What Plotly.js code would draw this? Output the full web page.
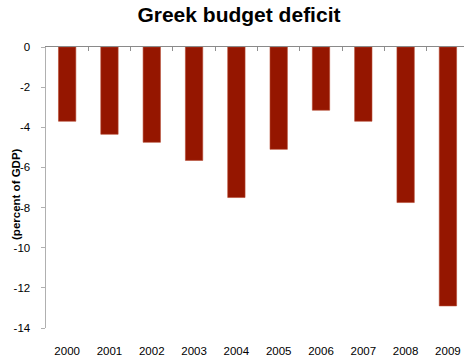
<!DOCTYPE html>
<html><head><meta charset="utf-8">
<script src="https://cdn.plot.ly/plotly-3.0.1.min.js"></script>
<style>html,body{margin:0;padding:0;background:#fff;}#chart{width:464px;height:358px;}</style>
</head><body><div id="chart"></div>
<script>
const years = ['2000','2001','2002','2003','2004','2005','2006','2007','2008','2009'];
const deficit = [-3.7, -4.35, -4.75, -5.65, -7.5, -5.1, -3.15, -3.7, -7.75, -12.9];
const yTicks = [0, -2, -4, -6, -8, -10, -12, -14];

const idx = years.map((_, i) => i);
const dividers = years.slice(0, -1).map((_, i) => i + 0.5);

const data = [{
  type: 'bar', x: idx, y: deficit,
  marker: {color: '#951600', line: {color: '#b5482f', width: 0.6}},
  width: 0.41, hoverinfo: 'none'
}];

const layout = {
  width: 464, height: 358,
  margin: {l: 46, r: 0, t: 47, b: 30},
  paper_bgcolor: '#fff', plot_bgcolor: '#fff',
  showlegend: false,
  font: {family: 'Liberation Sans, Arial, sans-serif', color: '#000', size: 11},
  title: {text: '<b>Greek budget deficit</b>', font: {size: 21, color: '#000'}, x: 0.515, xanchor: 'center', y: 0.96, yanchor: 'middle'},
  xaxis: {
    range: [-0.5, 9.38], tickvals: idx, ticktext: years, showline: false, ticks: '',
    showgrid: false, zeroline: false, ticklabelstandoff: 14, tickfont: {size: 11.5}
  },
  xaxis2: {
    overlaying: 'x', side: 'top', range: [-0.5, 9.38], tickvals: dividers,
    showticklabels: false, ticks: 'inside', ticklen: 4, tickcolor: '#909090',
    showline: true, linecolor: '#8a8a8a', linewidth: 1.5, showgrid: false, zeroline: false
  },
  yaxis: {
    range: [-14, 0], tickvals: yTicks, ticktext: yTicks.map(String),
    showline: true, linecolor: '#b0b0b0', linewidth: 1.5, ticks: 'outside', ticklen: 4,
    tickcolor: '#b0b0b0', showgrid: false, zeroline: false, tickfont: {size: 11.5},
    ticklabelstandoff: 8
  },
  annotations: [{
    text: '<b>(percent of GDP)</b>', font: {size: 11.5}, textangle: -90,
    xref: 'paper', yref: 'paper', x: -30/418, y: 0.477, xanchor: 'center', yanchor: 'middle',
    showarrow: false
  }]
};
data.push({type: 'scatter', x: [0], y: [0], xaxis: 'x2', mode: 'none', hoverinfo: 'none'});
Plotly.newPlot('chart', data, layout, {staticPlot: true});
</script></body></html>
